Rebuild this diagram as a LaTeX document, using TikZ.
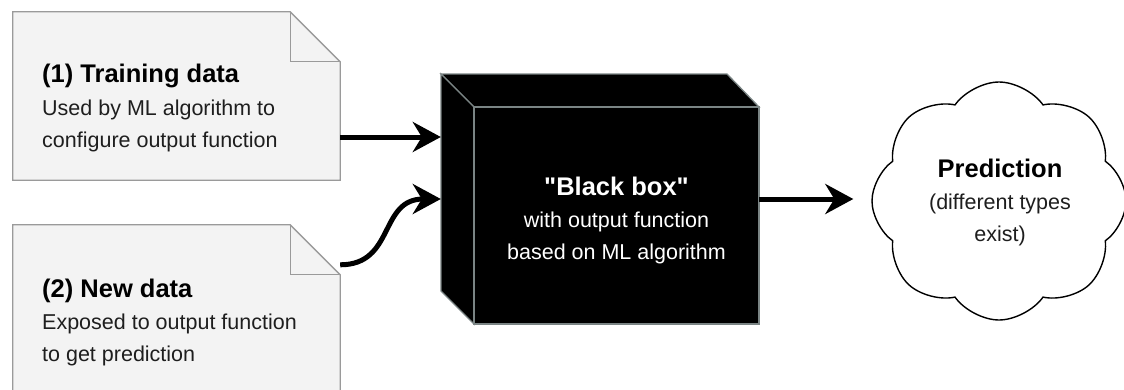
\documentclass[tikz,border=0pt]{standalone}
\usepackage{fontspec}
\setmainfont{Liberation Sans}
\usetikzlibrary{arrows.meta,shapes.symbols}
\definecolor{docfill}{HTML}{F3F3F3}
\definecolor{docline}{HTML}{9A9A9A}
\definecolor{boxline}{HTML}{7A8484}
\definecolor{txt}{HTML}{1E1E1E}
\begin{document}
\begin{tikzpicture}[x=1pt,y=-1pt,
  docarea/.style={draw=none,inner sep=0,minimum width=327pt},
  docshape/.style={draw=docline,fill=docfill,line width=1.3pt,line join=miter},
  head/.style={font=\fontsize{25.5}{30}\selectfont\bfseries,inner sep=0,text=black},
  body/.style={font=\fontsize{21.5}{26}\selectfont,inner sep=0,text=txt},
  arr/.style={line width=5pt,-{Stealth[length=28pt,width=30pt,inset=9pt]}},
  boxface/.style={fill=black,draw=boxline,line width=1.3pt,line join=miter},
  predcloud/.style={cloud,draw=black,fill=white,line width=1.4pt,cloud puffs=8,cloud puff arc=110,aspect=1.1,minimum width=254pt,minimum height=238pt,inner sep=0}
]
\clip (0,0) rectangle (1124,389);
\fill[white] (0,0) rectangle (1124,389);

% document 1
\node[docarea,minimum height=168pt] (doc1) at (176.5,96) {};
\draw[docshape] (doc1.north west) -- ([xshift=-50pt]doc1.north east) -- ([yshift=-50pt]doc1.north east) -- (doc1.south east) -- (doc1.south west) -- cycle;
\draw[docshape,fill=none] ([xshift=-50pt]doc1.north east) |- ([yshift=-50pt]doc1.north east);
\node[head,anchor=base west] (d1h) at (42,82) {(1) Training data};
\node[body,anchor=base west] (d1a) at (42,115) {Used by ML algorithm to};
\node[body,anchor=base west] (d1b) at (42,147) {configure output function};

% document 2
\node[docarea,minimum height=195pt] (doc2) at (176.5,322.5) {};
\draw[docshape] (doc2.north west) -- ([xshift=-50pt]doc2.north east) -- ([yshift=-50pt]doc2.north east) -- (doc2.south east) -- (doc2.south west) -- cycle;
\draw[docshape,fill=none] ([xshift=-50pt]doc2.north east) |- ([yshift=-50pt]doc2.north east);
\node[head,anchor=base west] (d2h) at (42,297) {(2) New data};
\node[body,anchor=base west] (d2a) at (42,329) {Exposed to output function};
\node[body,anchor=base west] (d2b) at (42,361) {to get prediction};

% black box
\node[draw=none,inner sep=0,minimum width=318pt,minimum height=250pt] (box) at (600,199) {};
\draw[boxface] (441,74) -- (727,74) -- (759,107) -- (474,107) -- cycle;
\draw[boxface] (441,74) -- (474,107) -- (474,324) -- (441,291) -- cycle;
\draw[boxface] (474,107) rectangle (759,324);
\node[head,text=white,anchor=base] (bbh) at (616.5,195) {\textquotedbl Black box\textquotedbl};
\node[body,text=white,anchor=base] (bba) at (616.5,227) {with output function};
\node[body,text=white,anchor=base] (bbb) at (616.5,259) {based on ML algorithm};

% cloud
\node[predcloud] (cloud) at (999,201) {};
\node[head,anchor=base] (ph) at (1000,177) {Prediction};
\node[body,anchor=base] (pa) at (1000,209) {(different types};
\node[body,anchor=base] (pb) at (1000,241) {exist)};

% connectors
\draw[arr] ([yshift=-41pt]doc1.east) -- ([yshift=62pt]box.west);
\draw[arr] ([yshift=-40pt]doc2.north east) .. controls +(55,0) and +(-62,0) .. (box.west);
\draw[arr] (box.east) -- ([xshift=-18pt]box.east -| cloud.west);
\end{tikzpicture}
\end{document}
